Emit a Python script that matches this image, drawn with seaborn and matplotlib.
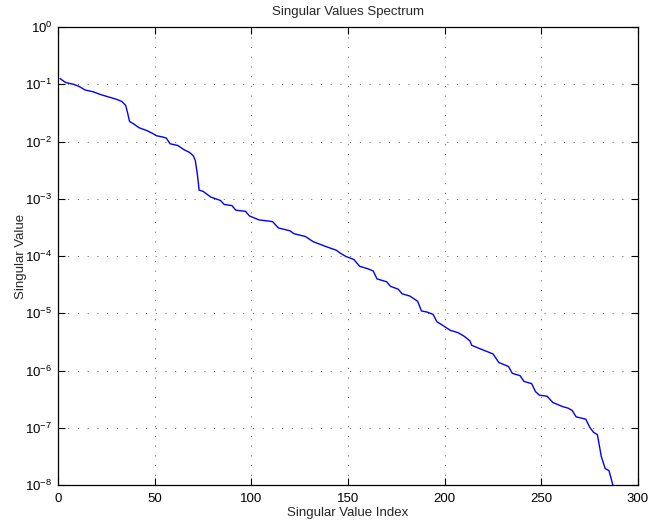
import numpy as np
import pandas as pd
import matplotlib
matplotlib.use("Agg")
import matplotlib.pyplot as plt
import seaborn as sns

# Values (index, log10 of singular value)
sv_index = [1, 4, 8, 11, 14, 18, 22, 26, 30, 33, 35, 36, 37, 39, 42, 46, 49, 51, 54, 56,
            58, 62, 65, 68, 70, 71, 72, 73, 75, 79, 84, 86, 90, 92, 97, 99, 104, 109, 111, 114,
            120, 122, 128, 132, 139, 144, 146, 149, 153, 156, 160, 163, 165, 170, 172, 176, 178, 182, 186, 188,
            191, 194, 196, 198, 203, 207, 210, 213, 214, 219, 225, 228, 233, 235, 239, 241, 245, 247, 249, 253,
            256, 261, 264, 266, 268, 273, 275, 277, 279, 281, 283, 285, 287]
sv_log10 = [-0.90, -0.97, -1.00, -1.04, -1.10, -1.13, -1.18, -1.22, -1.26, -1.30, -1.37, -1.50, -1.65, -1.69, -1.76, -1.81, -1.86, -1.90, -1.92, -1.94,
            -2.04, -2.07, -2.14, -2.19, -2.25, -2.33, -2.55, -2.85, -2.87, -2.97, -3.03, -3.10, -3.12, -3.20, -3.22, -3.30, -3.37, -3.39, -3.40, -3.51,
            -3.56, -3.61, -3.66, -3.75, -3.84, -3.90, -3.95, -4.01, -4.06, -4.18, -4.22, -4.26, -4.40, -4.45, -4.53, -4.58, -4.66, -4.70, -4.79, -4.96,
            -4.98, -5.02, -5.15, -5.19, -5.30, -5.34, -5.40, -5.48, -5.56, -5.63, -5.71, -5.86, -5.93, -6.05, -6.09, -6.19, -6.23, -6.37, -6.43, -6.45,
            -6.56, -6.63, -6.66, -6.70, -6.81, -6.85, -6.99, -7.08, -7.12, -7.50, -7.71, -7.75, -8.00]
x_ticks = [0, 50, 100, 150, 200, 250, 300]
y_ticks = [1e-8, 1e-7, 1e-6, 1e-5, 1e-4, 1e-3, 1e-2, 1e-1, 1e0]

df = pd.DataFrame({"idx": sv_index, "val": [10.0 ** v for v in sv_log10]})

sns.set_style("ticks")
plt.rcParams["font.family"] = ["Liberation Sans", "DejaVu Sans"]
plt.rcParams["mathtext.fontset"] = "custom"
plt.rcParams["mathtext.rm"] = "Liberation Sans"
plt.rcParams["mathtext.it"] = "Liberation Sans"

fig = plt.figure(figsize=(6.5, 5.24), dpi=100)
ax = fig.add_axes([58 / 650, 39 / 524, 580 / 650, 458 / 524])

sns.lineplot(data=df, x="idx", y="val", ax=ax, color="#0000ff", linewidth=1.0,
             estimator=None, sort=False)
ax.set_yscale("log")
ax.set_xlim(0, 300)
ax.set_ylim(1e-8, 1e0)
ax.set_xticks(x_ticks)
ax.set_yticks(y_ticks)
ax.yaxis.set_minor_locator(matplotlib.ticker.NullLocator())
ax.set_yticklabels([r"$10^{%d}$" % int(round(np.log10(t))) for t in y_ticks])

ax.grid(True, which="major", color="#555555", linestyle=(0, (1, 9)), linewidth=0.7)
ax.tick_params(direction="in", length=5, width=0.8, top=True, right=True, labelsize=9.5,
               colors="black")
ax.tick_params(axis="x", pad=6)
ax.tick_params(axis="y", pad=4)
for s in ax.spines.values():
    s.set_linewidth(0.9)
    s.set_color("black")

ax.set_xlabel("Singular Value Index", fontsize=9.5, labelpad=1)
ax.set_ylabel("Singular Value", fontsize=9.5, labelpad=-1)
ax.set_title("Singular Values Spectrum", fontsize=9.5, pad=9)

fig.savefig("out.png", dpi=100)
